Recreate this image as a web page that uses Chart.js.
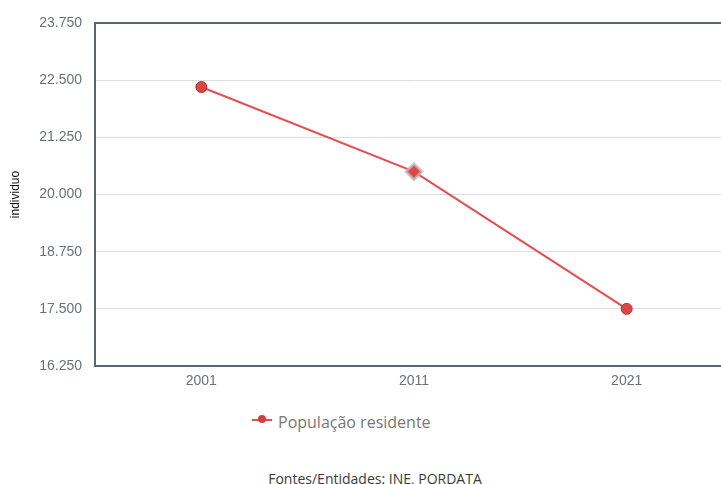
<!DOCTYPE html>
<html>
<head>
<meta charset="utf-8">
<script src="https://cdn.jsdelivr.net/npm/chart.js@4.4.1/dist/chart.umd.min.js"></script>
<style>
  html, body { margin: 0; padding: 0; background: #fff; width: 721px; height: 484px; overflow: hidden; position: relative; }
  .chart-box { position: absolute; left: 0; top: 0; width: 740px; height: 400px; }
  .legend { position: absolute; left: 252px; top: 411px; font: 16px "Open Sans", sans-serif; color: #777; display: flex; align-items: center; }
  .legend .mark { position: relative; width: 20px; height: 2px; background: #e84c4c; margin-right: 6px; top: -2px; }
  .legend .mark::after { content: ''; position: absolute; left: 6px; top: -4px; width: 8px; height: 8px; border-radius: 50%; background: #d93c3c; }
  .footer { position: absolute; left: 0; width: 750px; top: 469px; text-align: center; font: 14px "Open Sans", sans-serif; color: #3a3a3a; }
</style>
</head>
<body>
<div class="chart-box"><canvas id="lineChart"></canvas></div>
<div class="legend"><span class="mark"></span>População residente</div>
<div class="footer">Fontes/Entidades: INE, PORDATA</div>
<script>
const years = ['2001', '2011', '2021'];
const populacao = [22350, 20500, 17500];
const seriesName = 'População residente';
const yMin = 16250, yMax = 23750, yStep = 1250;

const AXIS = '#56677a';
const RED = '#e84c4c';
const TICK = '#68717a';

// numbers like 23.750 (pt locale thousands)
const fmt = v => String(v).replace(/\B(?=(\d{3})+(?!\d))/g, '.');

const ctx = document.getElementById('lineChart').getContext('2d');
new Chart(ctx, {
    type: 'line',
    data: {
        labels: years,
        datasets: [{
            label: seriesName,
            data: populacao,
            borderColor: RED,
            borderWidth: 2,
            tension: 0,
            pointStyle: ['circle', 'rectRot', 'circle'],
            pointRadius: [5.5, 8, 5.5],
            pointBackgroundColor: '#e04444',
            pointBorderColor: ['#b83030', 'rgba(190,190,190,0.7)', '#b83030'],
            pointBorderWidth: [1, 3, 1],
        }]
    },
    options: {
        responsive: true,
        maintainAspectRatio: false,
        animation: false,
        layout: { padding: { top: 23, right: 7, left: 0, bottom: 0 } },
        plugins: { legend: { display: false }, tooltip: { enabled: false } },
        scales: {
            x: {
                offset: true,
                grid: { display: false, drawTicks: false },
                border: { color: AXIS, width: 2 },
                ticks: { color: TICK, font: { family: 'Liberation Sans', size: 14 }, padding: 7 },
                afterFit: s => { s.height = 34; }
            },
            y: {
                min: yMin, max: yMax,
                grid: {
                    drawTicks: false,
                    color: c => c.tick && c.tick.value === yMax ? AXIS : '#dcdcdc',
                    lineWidth: c => c.tick && c.tick.value === yMax ? 2 : 1
                },
                border: { color: AXIS, width: 2 },
                ticks: {
                    stepSize: yStep,
                    color: TICK,
                    padding: 13,
                    font: { family: 'Liberation Sans', size: 14 },
                    callback: v => fmt(v)
                },
                title: {
                    display: true,
                    text: 'individuo',
                    color: '#111',
                    font: { family: 'Liberation Sans', size: 12 },
                    padding: { top: 8, bottom: 0 }
                },
                afterFit: s => { s.width = 95; }
            }
        }
    }
});
</script>
</body>
</html>
